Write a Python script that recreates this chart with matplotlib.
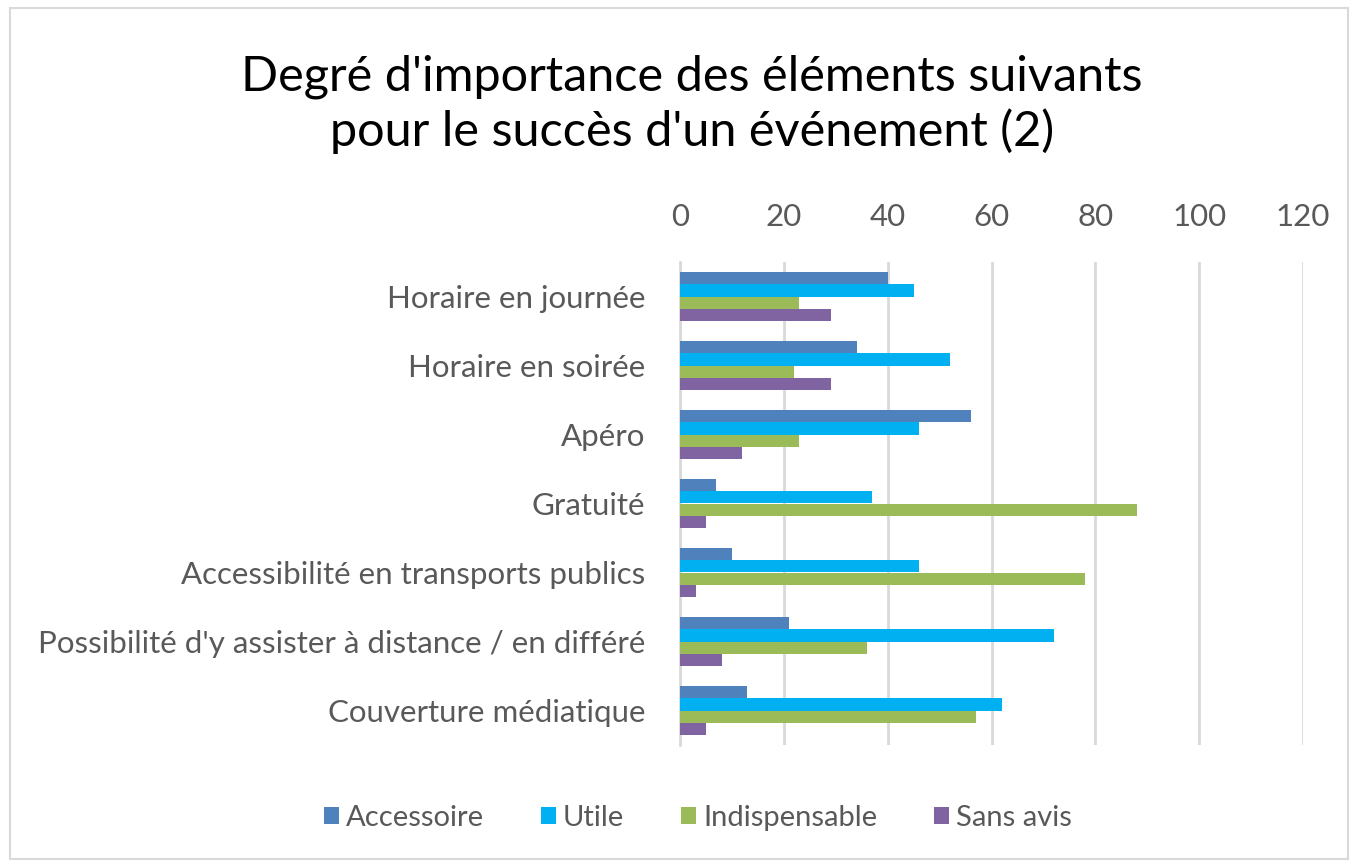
import numpy as np
import matplotlib.pyplot as plt
from matplotlib.patches import Rectangle

categories = ['Horaire en journée',
              'Horaire en soirée',
              'Apéro',
              'Gratuité',
              'Accessibilité en transports publics',
              "Possibilité d'y assister à distance / en différé",
              'Couverture médiatique']

accessoire = [40, 34, 56, 7, 10, 21, 13]
utile = [45, 52, 46, 37, 46, 72, 62]
indispensable = [23, 22, 23, 88, 78, 36, 57]
sans_avis = [29, 29, 12, 5, 3, 8, 5]

series = ['Accessoire', 'Utile', 'Indispensable', 'Sans avis']
colors = ['#4F81BD', '#00B0F0', '#9BBB59', '#8064A2']
values = [accessoire, utile, indispensable, sans_avis]

plt.rcParams['font.family'] = ['Lato', 'DejaVu Sans']
txt = '#595959'

fig = plt.figure(figsize=(13.56, 8.67), dpi=100)
ax = fig.add_axes([680/1356, 1-745/867, (1303-680)/1356, (745-262)/867])

y = np.arange(len(categories))
h = 0.174
for i in range(4):
    ax.barh(y + (i - 1.5)*h, values[i], height=h, color=colors[i],
            label=series[i], zorder=3)

ax.set_xlim(0, 120)
ax.set_ylim(len(categories) - 0.5, -0.5)
ax.set_xticks(range(0, 121, 20))
ax.xaxis.tick_top()
ax.set_yticks(y)
ax.set_yticklabels(categories)
ax.tick_params(axis='both', length=0, labelsize=22.5, colors=txt)
ax.tick_params(axis='x', pad=22)
ax.tick_params(axis='y', pad=25)
ax.grid(axis='x', color='#D9D9D9', linewidth=2, zorder=0)
for s in ['top', 'right', 'bottom']:
    ax.spines[s].set_visible(False)
ax.spines['left'].set_color('#D9D9D9')
ax.spines['left'].set_linewidth(2)

fig.text(692/1356, 1-104/867, "Degré d'importance des éléments suivants\npour le succès d'un événement (2)",
         ha='center', va='center', fontsize=35, color='black', linespacing=1.25)

fig.legend(loc='center', bbox_to_anchor=(698/1356, 1-818/867), ncol=4,
           frameon=False, fontsize=21, labelcolor=txt, handlelength=0.5,
           handleheight=0.5, handletextpad=0.25, columnspacing=1.95)

fig.patches.append(Rectangle((10/1356, 8/867), 1338/1356, 851/867, fill=False,
                             edgecolor='#D9D9D9', linewidth=1.5,
                             transform=fig.transFigure))

plt.savefig('out.png', dpi=100)
